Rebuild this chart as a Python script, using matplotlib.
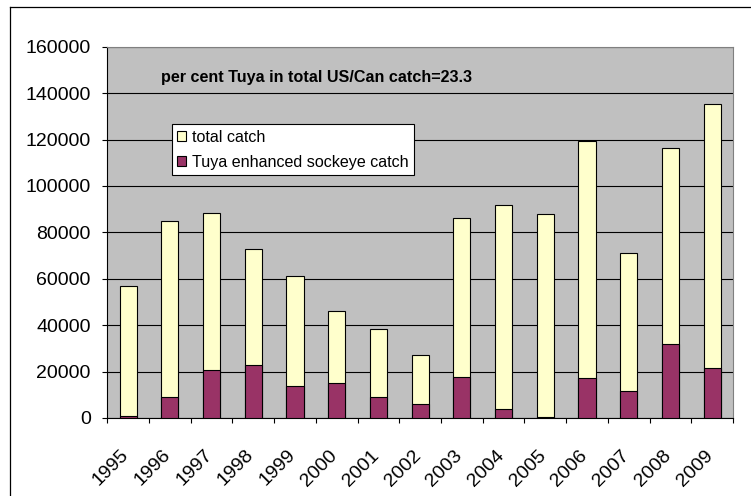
import matplotlib
matplotlib.use('Agg')
import matplotlib.pyplot as plt
from matplotlib.lines import Line2D
from matplotlib.transforms import ScaledTranslation
import numpy as np

years = ['1995', '1996', '1997', '1998', '1999', '2000', '2001', '2002',
         '2003', '2004', '2005', '2006', '2007', '2008', '2009']
total_catch = [57000, 85000, 88500, 73000, 61000, 46000, 38500, 27200,
               86300, 91600, 88000, 119300, 71000, 116300, 135300]
tuya_catch = [1000, 9000, 20700, 23000, 14000, 15000, 9000, 6000,
              17700, 3700, 400, 17100, 11800, 32000, 21400]
y_ticks = [0, 20000, 40000, 60000, 80000, 100000, 120000, 140000, 160000]
annotation = "per cent Tuya in total US/Can catch=23.3"
series_names = ['total catch', 'Tuya enhanced sockeye catch']

plt.rcParams['font.family'] = ['Liberation Sans', 'DejaVu Sans']

W, H = 751, 496
fig = plt.figure(figsize=(W / 100, H / 100), dpi=100)
fig.patch.set_facecolor('white')
L, R, T, B = 107.3, 733.0, 46.7, 418.0
ax = fig.add_axes([L / W, 1 - B / H, (R - L) / W, (B - T) / H])
ax.set_facecolor('#C0C0C0')

x = np.arange(len(years))
ax.bar(x, total_catch, width=0.41, color='#FFFFCC', edgecolor='black',
       linewidth=0.8, label=series_names[0], zorder=2)
ax.bar(x, tuya_catch, width=0.41, color='#993366', edgecolor='black',
       linewidth=0.8, label=series_names[1], zorder=3)

ax.set_xlim(-0.5, len(years) - 0.5)
ax.set_ylim(0, 160000)
ax.set_yticks(y_ticks)
ax.set_yticklabels([str(v) for v in y_ticks])
ax.yaxis.grid(True, color='black', linewidth=0.8)
ax.set_axisbelow(True)

ax.set_xticks(np.arange(len(years) + 1) - 0.5)
ax.set_xticklabels([])
ax.set_xticks(x, minor=True)
ax.set_xticklabels(years, minor=True, rotation=45, ha='right', va='center',
                   rotation_mode='anchor')
ax.tick_params(axis='x', which='minor', length=0, pad=25, labelsize=14)
ax.tick_params(axis='x', which='major', length=3.6, width=0.8, direction='out')
ax.tick_params(axis='y', length=3.6, width=0.8, direction='out', pad=8.4,
               labelsize=14)
off = ScaledTranslation(-2 / 100, 0, fig.dpi_scale_trans)
for lab in ax.get_xticklabels(minor=True):
    lab.set_transform(lab.get_transform() + off)

for s in ['left', 'bottom']:
    ax.spines[s].set_color('black')
    ax.spines[s].set_linewidth(0.8)
for s in ['top', 'right']:
    ax.spines[s].set_color('#808080')
    ax.spines[s].set_linewidth(0.8)

ax.text(0.0853, 0.9176, annotation, transform=ax.transAxes, fontsize=11.6,
        fontweight='bold', ha='left', va='center', zorder=5)

leg = ax.legend(loc='upper left', bbox_to_anchor=(0.103, 0.791), fontsize=11.6,
                frameon=True, fancybox=False, borderaxespad=0, borderpad=0.35,
                handlelength=0.55, handleheight=0.6, handletextpad=0.35,
                labelspacing=0.6)
leg.get_frame().set_edgecolor('black')
leg.get_frame().set_linewidth(0.8)
leg.get_frame().set_facecolor('white')
leg.get_frame().set_alpha(1)
leg.set_zorder(6)

fig.add_artist(Line2D([10 / W, 10 / W], [0, 1 - 7 / H], transform=fig.transFigure,
                      color='black', linewidth=0.9))
fig.add_artist(Line2D([10 / W, 1], [1 - 7 / H, 1 - 7 / H], transform=fig.transFigure,
                      color='black', linewidth=0.9))

fig.savefig('out.png', dpi=100)
